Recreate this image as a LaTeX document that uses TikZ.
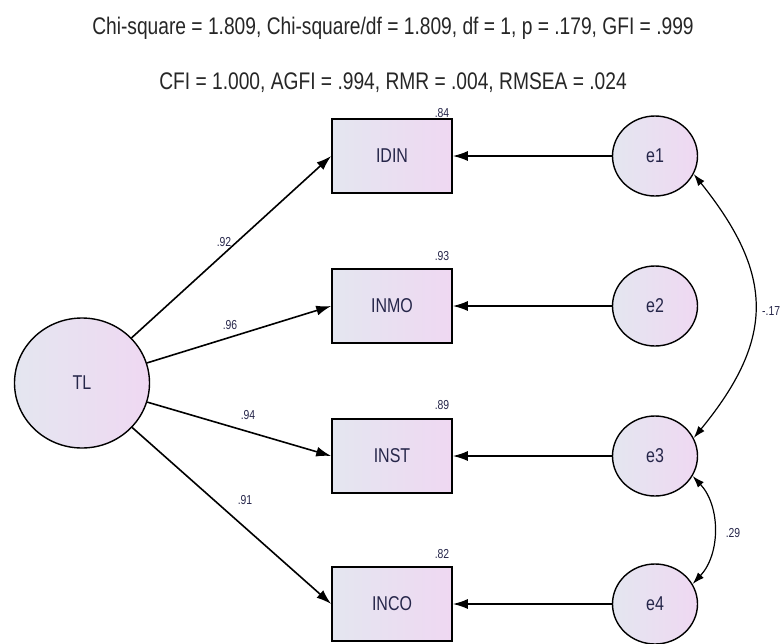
\documentclass[tikz,border=0pt]{standalone}
\usepackage{fontspec}
\usetikzlibrary{arrows.meta,shapes.geometric}
\newfontfamily\amosfont[FakeStretch=0.8]{Liberation Sans}
\definecolor{shadeL}{HTML}{E4E6F0}
\definecolor{shadeR}{HTML}{EFD8F2}
\definecolor{labelink}{HTML}{26264A}

\begin{document}
\begin{tikzpicture}[x=1pt, y=-1pt,
    obs/.style={draw, line width=1.6pt, minimum width=120pt, minimum height=74pt,
        left color=shadeL, right color=shadeR, text=labelink,
        font=\amosfont\fontsize{20}{20}\selectfont},
    err/.style={ellipse, draw, line width=1.4pt, minimum width=85pt, minimum height=80pt,
        left color=shadeL, right color=shadeR, text=labelink,
        font=\amosfont\fontsize{20}{20}\selectfont},
    lat/.style={err, minimum width=135pt, minimum height=130pt},
    load/.style={line width=1.6pt, -{Latex[length=15pt,width=10pt]}},
    cov/.style={line width=1.2pt, {Latex[length=12pt,width=8pt]}-{Latex[length=12pt,width=8pt]}},
    coef/.style={font=\amosfont\fontsize{13}{13}\selectfont, text=labelink},
    fit/.style={font=\amosfont\fontsize{24}{26}\selectfont, text=black!85}]

    % Cadre de l'image
    \fill[white] (0,0) rectangle (784,643);
    \useasboundingbox (0,0) rectangle (784,643);

    % Indices d'ajustement
    \node[fit] (fit1) at (393,28) {Chi-square = 1.809, Chi-square/df = 1.809, df = 1, p = .179, GFI = .999};
    \node[fit] (fit2) at (393,83) {CFI = 1.000, AGFI = .994, RMR = .004, RMSEA = .024};

    % Variable latente
    \node[lat] (tl) at (82,383) {TL};

    % Indicateurs observés
    \node[obs] (idin) at (392,156) {IDIN};
    \node[obs] (inmo) at (392,306) {INMO};
    \node[obs] (inst) at (392,456) {INST};
    \node[obs] (inco) at (392,604) {INCO};

    % Termes d'erreur
    \node[err] (e1) at (655,156) {e1};
    \node[err] (e2) at (655,306) {e2};
    \node[err] (e3) at (655,456) {e3};
    \node[err] (e4) at (655,604) {e4};

    % Saturations
    \draw[load] (tl) -- (idin.west);
    \draw[load] (tl) -- (inmo.west);
    \draw[load] (tl) -- (inst.west);
    \draw[load] (tl) -- (inco.west);
    \node[coef] (l1) at (224,242) {.92};
    \node[coef] (l2) at (230,325) {.96};
    \node[coef] (l3) at (248,415) {.94};
    \node[coef] (l4) at (245,500) {.91};

    % Erreurs vers indicateurs
    \draw[load] (e1) -- (idin);
    \draw[load] (e2) -- (inmo);
    \draw[load] (e3) -- (inst);
    \draw[load] (e4) -- (inco);

    % R carrés
    \node[coef] (r1) at (442,113) {.84};
    \node[coef] (r2) at (442,256) {.93};
    \node[coef] (r3) at (442,405) {.89};
    \node[coef] (r4) at (442,554) {.82};

    % Covariances entre erreurs
    \draw[cov] (e1.-25) .. controls +(80,100) and +(82,-100) .. (e3.25);
    \draw[cov] (e3.-28) .. controls +(28,30) and +(28,-30) .. (e4.28);
    \node[coef, anchor=west, inner sep=1pt] (c13) at (761,311) {-.17};
    \node[coef] (c34) at (733,533) {.29};

\end{tikzpicture}
\end{document}
